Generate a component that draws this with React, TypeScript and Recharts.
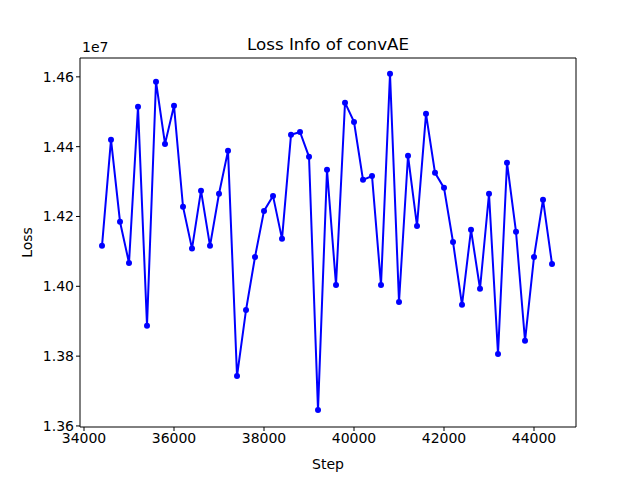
import React from "react";
import { LineChart, Line, XAxis, YAxis, Label, ReferenceLine } from "recharts";

const steps = [34400,34600,34800,35000,35200,35400,35600,35800,36000,36200,36400,36600,36800,37000,37200,37400,37600,37800,38000,38200,38400,38600,38800,39000,39200,39400,39600,39800,40000,40200,40400,40600,40800,41000,41200,41400,41600,41800,42000,42200,42400,42600,42800,43000,43200,43400,43600,43800,44000,44200,44400];
const losses = [1.4116,1.4420,1.4185,1.4067,1.4514,1.3887,1.4586,1.4408,1.4517,1.4228,1.4108,1.4274,1.4116,1.4265,1.4388,1.3743,1.3932,1.4084,1.4216,1.4259,1.4136,1.4434,1.4442,1.4371,1.3646,1.4334,1.4004,1.4526,1.4471,1.4305,1.4316,1.4004,1.4609,1.3955,1.4374,1.4173,1.4494,1.4325,1.4282,1.4127,1.3947,1.4162,1.3993,1.4265,1.3806,1.4354,1.4156,1.3844,1.4084,1.4248,1.4064].map(v => v * 1e7);
const xTicks = [34000,36000,38000,40000,42000,44000];
const yTicks = [1.36e7,1.38e7,1.40e7,1.42e7,1.44e7,1.46e7];

const data = steps.map((s, i) => ({ step: s, loss: losses[i] }));
const font = "DejaVu Sans";
const tickStyle = { fontSize: 14, fill: "#000", fontFamily: font };
const X_MIN = 33911, X_MAX = 44933, Y_MIN = 1.3597e7, Y_MAX = 1.4654e7;

export default function App() {
  return (
    <div style={{ position: "absolute", left: 0, top: 0, width: 640, height: 480, background: "#fff" }}>
      <LineChart width={640} height={480} data={data} margin={{ top: 58, right: 64, bottom: 23, left: 30 }}>
        <XAxis dataKey="step" type="number" domain={[X_MIN, X_MAX]} ticks={xTicks} allowDataOverflow
          stroke="#000" tick={tickStyle} tickSize={4} height={30} tickLine={{ stroke: "#000" }}>
          <Label value="Step" position="bottom" offset={2} style={{ ...tickStyle }} />
        </XAxis>
        <YAxis dataKey="loss" type="number" domain={[Y_MIN, Y_MAX]} ticks={yTicks} allowDataOverflow
          tickFormatter={(v: number) => (v / 1e7).toFixed(2)} stroke="#000" tick={tickStyle} tickSize={4} width={50}>
          <Label value="Loss" angle={-90} position="insideLeft" offset={-3} style={{ ...tickStyle, textAnchor: "middle" }} />
        </YAxis>
        <ReferenceLine y={Y_MAX} stroke="#000" strokeWidth={1} />
        <ReferenceLine x={X_MAX} stroke="#000" strokeWidth={1} />
        <Line dataKey="loss" stroke="#0000ff" strokeWidth={2} isAnimationActive={false}
          dot={{ r: 3, fill: "#0000ff", stroke: "#0000ff", strokeWidth: 0 }} />
        <text x={328} y={50} textAnchor="middle" style={{ fontSize: 16.7, fontFamily: font }}>Loss Info of convAE</text>
        <text x={82} y={52} style={{ fontSize: 14, fontFamily: font }}>1e7</text>
      </LineChart>
    </div>
  );
}
